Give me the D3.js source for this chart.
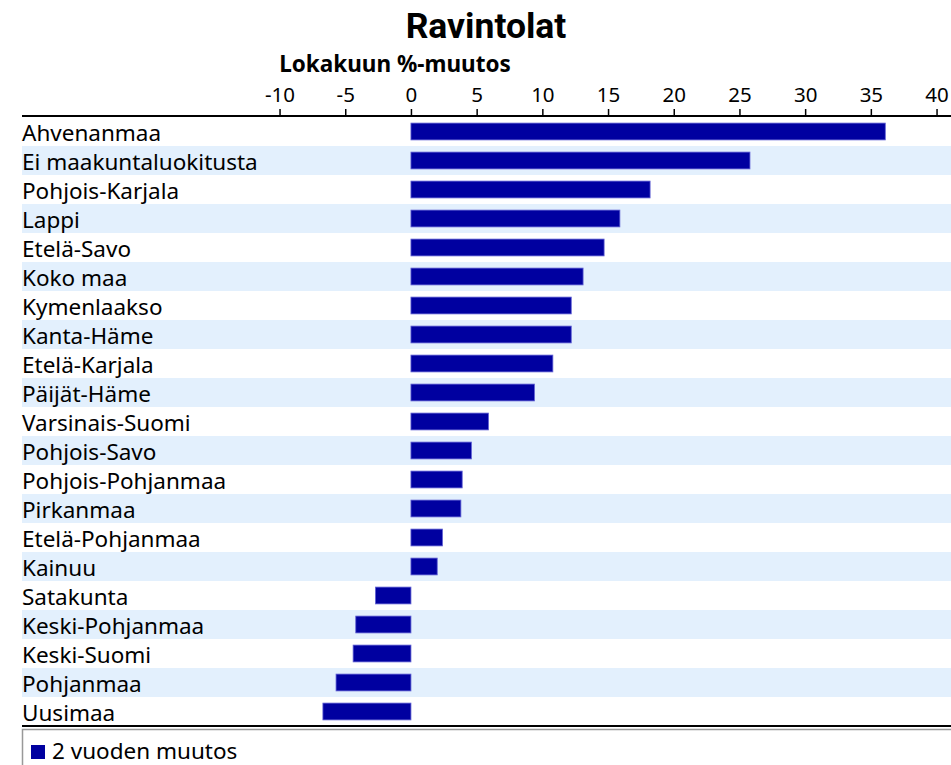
<!DOCTYPE html>
<html>
<head>
<meta charset="utf-8">
<script src="https://cdn.jsdelivr.net/npm/d3@7"></script>
<style>
	body { margin: 0; background: #fff; }
	text { font-family: "Noto Sans", sans-serif; }
</style>
</head>
<body>
<div id="chart"></div>
<script>
var regions = ["Ahvenanmaa", "Ei maakuntaluokitusta", "Pohjois-Karjala", "Lappi", "Etelä-Savo",
	"Koko maa", "Kymenlaakso", "Kanta-Häme", "Etelä-Karjala", "Päijät-Häme", "Varsinais-Suomi",
	"Pohjois-Savo", "Pohjois-Pohjanmaa", "Pirkanmaa", "Etelä-Pohjanmaa", "Kainuu", "Satakunta",
	"Keski-Pohjanmaa", "Keski-Suomi", "Pohjanmaa", "Uusimaa"];
var change2y = [36.1, 25.8, 18.2, 15.9, 14.7, 13.1, 12.2, 12.2, 10.8, 9.4, 5.9,
	4.6, 3.9, 3.8, 2.4, 2.0, -2.7, -4.2, -4.4, -5.7, -6.7];
var ticks = [-10, -5, 0, 5, 10, 15, 20, 25, 30, 35, 40];
var title = "Ravintolat";
var subtitle = "Lokakuun %-muutos";
var seriesName = "2 vuoden muutos";

var W = 951, H = 765;

var svg = d3.select("#chart").append("svg")
	.attr("width", W)
	.attr("height", H);

var x = d3.scaleLinear()
	.domain([-29.6, 41.1])
	.range([22, W]);

var y = d3.scaleBand()
	.domain(regions)
	.range([117, 726]);

// stripes
svg.append("g").selectAll("rect")
	.data(regions)
	.join("rect")
	.attr("x", 22)
	.attr("y", function(d){ return y(d); })
	.attr("width", W - 22)
	.attr("height", y.bandwidth())
	.attr("fill", function(d, i){ return i % 2 ? "#e3f0fd" : "#fff"; });

// title
svg.append("text")
	.attr("x", 486)
	.attr("y", 38)
	.attr("text-anchor", "middle")
	.style("font-family", "Roboto, sans-serif")
	.style("font-weight", "bold")
	.style("font-size", "35.5px")
	.text(title);

svg.append("text")
	.attr("x", 395)
	.attr("y", 72)
	.attr("text-anchor", "middle")
	.style("font-weight", "bold")
	.style("font-size", "22.5px")
	.text(subtitle);

// axis
var axis = svg.append("g")
	.attr("transform", "translate(0,116)")
	.call(d3.axisTop(x).tickValues(ticks).tickSize(7).tickPadding(7)
		.tickFormat(function(d){ return String(d); }));
axis.select(".domain").remove();
axis.selectAll(".tick line").attr("stroke", "#000").attr("stroke-width", 1.5);
axis.selectAll(".tick text")
	.attr("fill", "#000")
	.style("font-family", "\"Noto Sans\", sans-serif")
	.style("font-size", "20.5px");

svg.append("line")
	.attr("x1", 22).attr("x2", W)
	.attr("y1", 116).attr("y2", 116)
	.attr("stroke", "#000")
	.attr("stroke-width", 2);

// labels
svg.append("g").selectAll("text")
	.data(regions)
	.join("text")
	.attr("x", 22)
	.attr("y", function(d){ return y(d) + 23.5; })
	.style("font-size", "22.5px")
	.attr("fill", "#000")
	.text(function(d){ return d; });

// bars
var inset = y.bandwidth() * 0.21;
svg.append("g").selectAll("rect")
	.data(change2y)
	.join("rect")
	.attr("x", function(d){ return x(Math.min(0, d)); })
	.attr("y", function(d, i){ return y(regions[i]) + inset; })
	.attr("width", function(d){ return Math.abs(x(d) - x(0)); })
	.attr("height", y.bandwidth() - 2 * inset)
	.attr("fill", "#0000a0")
	.attr("stroke", "#6161d4")
	.attr("stroke-width", 0.8);

// bottom rule
svg.append("line")
	.attr("x1", 22).attr("x2", W)
	.attr("y1", 726).attr("y2", 726)
	.attr("stroke", "#000")
	.attr("stroke-width", 2);

// legend box
svg.append("rect")
	.attr("x", 22.5)
	.attr("y", 729.5)
	.attr("width", W)
	.attr("height", 60)
	.attr("fill", "none")
	.attr("stroke", "#999")
	.attr("stroke-width", 1.5);

svg.append("rect")
	.attr("x", 31)
	.attr("y", 745)
	.attr("width", 14)
	.attr("height", 14)
	.attr("fill", "#0000a0");

svg.append("text")
	.attr("x", 52)
	.attr("y", 759)
	.style("font-size", "22.5px")
	.text(seriesName);
</script>
</body>
</html>
